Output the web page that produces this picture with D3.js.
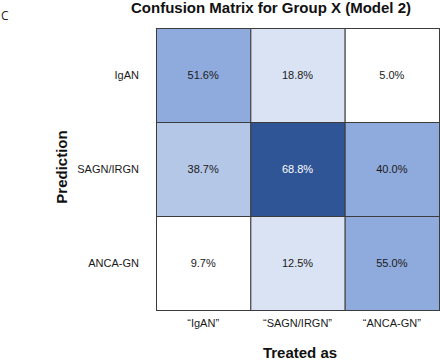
<!DOCTYPE html>
<html>
<head>
<meta charset="utf-8">
<script src="https://cdn.jsdelivr.net/npm/d3@7"></script>
<style>
  html, body { margin: 0; padding: 0; background: #fff; }
  svg { display: block; font-family: Arial, "Liberation Sans", sans-serif; }
</style>
</head>
<body>
<div id="chart"></div>
<script>
// ── Data ─────────────────────────────────────
const ROWS = ["IgAN", "SAGN/IRGN", "ANCA-GN"];                  // prediction
const COLS = ["\u201CIgAN\u201D", "\u201CSAGN/IRGN\u201D", "\u201CANCA-GN\u201D"]; // treated as
const VALUES = [
  [51.6, 18.8, 5.0],
  [38.7, 68.8, 40.0],
  [9.7, 12.5, 55.0]
];

// binned blue shades
const COLOR = d3.scaleThreshold()
  .domain([10, 20, 40, 60])
  .range(["#FFFFFF", "#DAE3F3", "#B4C7E7", "#8FAADC", "#2F5597"]);

const W = 440, H = 361;
const grid = { left: 156, right: 439, top: 28, bottom: 310 };

const svg = d3.select("#chart").append("svg")
  .attr("width", W).attr("height", H);

const x = d3.scaleBand().domain(COLS).range([grid.left, grid.right]);
const y = d3.scaleBand().domain(ROWS).range([grid.top, grid.bottom]);

const cells = [];
ROWS.forEach((r, i) => COLS.forEach((c, j) => cells.push({ r, c, v: VALUES[i][j] })));

// ── Cells ────────────────────────────────────
svg.append("g").selectAll("rect")
  .data(cells)
  .join("rect")
    .attr("x", d => x(d.c) + 0.5)
    .attr("y", d => y(d.r) + 0.5)
    .attr("width", x.bandwidth())
    .attr("height", y.bandwidth())
    .attr("fill", d => COLOR(d.v))
    .attr("stroke", "#3C3C3C")
    .attr("stroke-width", 1);

svg.append("g").selectAll("text")
  .data(cells)
  .join("text")
    .attr("x", d => x(d.c) + x.bandwidth() / 2)
    .attr("y", d => y(d.r) + y.bandwidth() / 2 + 4)
    .attr("text-anchor", "middle")
    .attr("font-size", "11px")
    .attr("fill", d => d.v >= 60 ? "#FFFFFF" : "#1A1A1A")
    .text(d => d.v.toFixed(1) + "%");

// ── Axes ─────────────────────────────────────
const yAxis = svg.append("g")
  .attr("transform", `translate(${grid.left},0)`)
  .call(d3.axisLeft(y).tickSize(0).tickPadding(17));
yAxis.select(".domain").remove();
yAxis.selectAll("text")
  .attr("font-family", "Arial, 'Liberation Sans', sans-serif")
  .attr("font-size", "11px").attr("fill", "#1A1A1A");

const xAxis = svg.append("g")
  .attr("transform", `translate(0,${grid.bottom})`)
  .call(d3.axisBottom(x).tickSize(0).tickPadding(9));
xAxis.select(".domain").remove();
xAxis.selectAll("text")
  .attr("font-family", "Arial, 'Liberation Sans', sans-serif")
  .attr("font-size", "11px").attr("fill", "#1A1A1A");

// ── Titles ───────────────────────────────────
svg.append("text")
  .attr("x", 271).attr("y", 13)
  .attr("text-anchor", "middle")
  .attr("font-size", "15px").attr("font-weight", "bold")
  .attr("fill", "#111")
  .text("Confusion Matrix for Group X (Model 2)");

svg.append("text")
  .attr("x", 300).attr("y", 358)
  .attr("text-anchor", "middle")
  .attr("font-size", "15px").attr("font-weight", "bold")
  .attr("fill", "#111")
  .text("Treated as");

svg.append("text")
  .attr("transform", "translate(67,167) rotate(-90)")
  .attr("text-anchor", "middle")
  .attr("font-size", "15px").attr("font-weight", "bold")
  .attr("fill", "#111")
  .text("Prediction");

svg.append("text")
  .attr("x", 1).attr("y", 20)
  .attr("font-family", "'Open Sans', sans-serif")
  .attr("font-size", "12px")
  .attr("fill", "#222")
  .text("C");
</script>
</body>
</html>
